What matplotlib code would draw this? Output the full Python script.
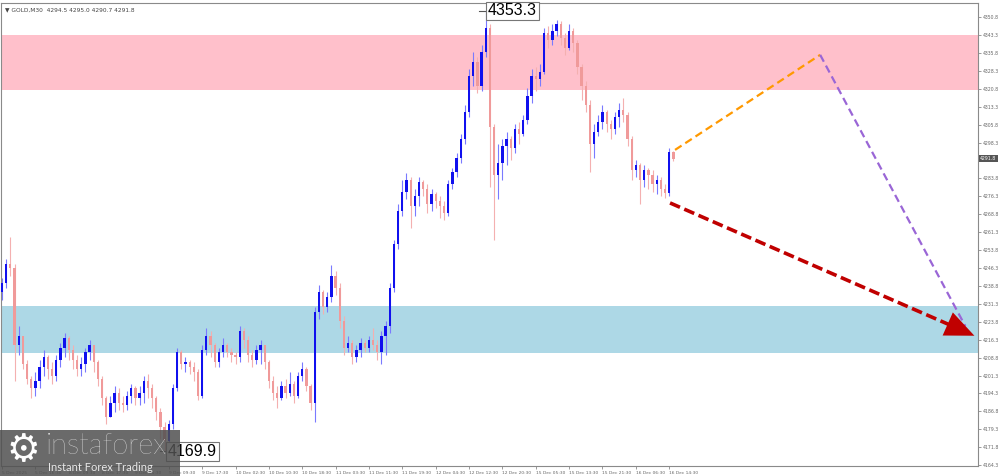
import numpy as np
import matplotlib
matplotlib.use("Agg")
import matplotlib.pyplot as plt
from matplotlib.patches import Rectangle

# hourly-ish candles (GOLD M30 view)
close = [4240, 4248, 4246, 4214, 4218, 4206, 4200, 4196, 4199, 4205,
         4209, 4204, 4201, 4208, 4213, 4217, 4212, 4208, 4204, 4206,
         4211, 4214, 4207, 4200, 4192, 4184, 4190, 4194, 4190, 4189,
         4193, 4196, 4192, 4194, 4199, 4196, 4192, 4186, 4180, 4174,
         4181, 4196, 4211, 4206, 4207, 4205, 4203, 4193, 4212, 4218,
         4214, 4207, 4211, 4214, 4211, 4210, 4209, 4220, 4216, 4210,
         4208, 4212, 4214, 4207, 4199, 4194, 4192, 4197, 4194, 4198,
         4193, 4201, 4204, 4197, 4190, 4228, 4236, 4230, 4234, 4243,
         4238, 4224, 4213, 4215, 4209, 4212, 4215, 4213, 4216, 4214,
         4211, 4218, 4222, 4238, 4256, 4270, 4278, 4283, 4272, 4276,
         4282, 4279, 4273, 4277, 4274, 4272, 4269, 4281, 4286, 4292,
         4300, 4311, 4326, 4332, 4322, 4336, 4346, 4305, 4285, 4290,
         4297, 4300, 4296, 4304, 4302, 4308, 4318, 4326, 4325, 4328,
         4344, 4341, 4345, 4348, 4342, 4338, 4345, 4340, 4330, 4322,
         4314, 4298, 4303, 4307, 4311, 4306, 4304, 4309, 4312, 4310,
         4300, 4287, 4289, 4283, 4287, 4285, 4281, 4283, 4279, 4277.5,
         4294.5, 4291.8]
high = [4242, 4250, 4259, 4248, 4222, 4218, 4208, 4201, 4203, 4208,
        4212, 4210, 4207, 4210, 4215, 4219, 4218, 4214, 4210, 4209,
        4213, 4216, 4214, 4208, 4201, 4193, 4193, 4197, 4196, 4193,
        4195, 4198, 4197, 4197, 4201, 4202, 4198, 4193, 4188, 4182,
        4183, 4198, 4213, 4212, 4209, 4208, 4207, 4204, 4214, 4221,
        4220, 4215, 4213, 4217, 4215, 4213, 4211, 4222, 4221, 4218,
        4212, 4214, 4216, 4214, 4208, 4201, 4197, 4199, 4200, 4203,
        4199, 4203, 4207, 4205, 4198, 4230, 4239, 4237, 4236, 4247.5,
        4245, 4240, 4226, 4218, 4216, 4214, 4217, 4216, 4218, 4221,
        4216, 4220, 4224, 4240, 4258, 4273, 4283, 4285.8, 4284, 4279,
        4284, 4283, 4281, 4279, 4278, 4276, 4274, 4283, 4288, 4294,
        4302, 4314, 4329, 4336, 4334, 4339, 4353.3, 4348, 4306, 4298,
        4300, 4303, 4301, 4306, 4307, 4310, 4321, 4329, 4330, 4331,
        4346, 4347, 4348, 4349.5, 4349, 4344, 4348, 4346, 4341, 4331,
        4324, 4316, 4306, 4310, 4314, 4312, 4308, 4311, 4315, 4317,
        4311, 4301, 4291, 4290, 4289, 4288, 4287, 4285, 4284, 4281,
        4296, 4295.0]
low = [4233, 4238, 4243, 4199, 4210, 4204, 4198, 4192, 4193, 4196,
       4201, 4200, 4198, 4199, 4205, 4209, 4208, 4204, 4201, 4201,
       4203, 4208, 4203, 4197, 4189, 4181, 4184, 4186, 4187, 4186,
       4187, 4190, 4189, 4189, 4190, 4192, 4188, 4183, 4175, 4169.9,
       4172, 4179, 4195, 4204, 4203, 4202, 4199, 4191, 4192, 4210,
       4209, 4205, 4205, 4209, 4209, 4207, 4206, 4207, 4213, 4207,
       4205, 4206, 4206, 4204, 4196, 4191, 4188, 4191, 4192, 4193,
       4190, 4192, 4199, 4195, 4187, 4182, 4225, 4227, 4228, 4232,
       4235, 4221, 4210, 4211, 4206, 4207, 4209, 4211, 4211, 4212,
       4208, 4206, 4210, 4219, 4236, 4254, 4268, 4275, 4263, 4268,
       4272, 4276, 4269, 4270, 4271, 4267, 4266, 4268, 4279, 4284,
       4290, 4298, 4309, 4322, 4319, 4320, 4334, 4280, 4258, 4275,
       4283, 4289, 4291, 4294, 4298, 4301, 4306, 4315, 4320, 4322,
       4327, 4338, 4339, 4343, 4339, 4335, 4337, 4336, 4327, 4316,
       4311, 4286, 4292, 4301, 4304, 4303, 4300, 4302, 4305, 4307,
       4297, 4283, 4284, 4273, 4280, 4279, 4278, 4277, 4276, 4275.5,
       4276, 4290.7]
first_open = 4236

resistance_zone = (4320.5, 4343.3)
support_zone = (4210.8, 4230.4)

y_ticks = [4350.8, 4343.3, 4335.8, 4328.3, 4320.8, 4313.3, 4305.8, 4298.3,
           4283.8, 4276.3, 4268.8, 4261.3, 4253.8, 4246.3, 4238.8, 4231.3,
           4223.8, 4216.3, 4208.8, 4201.3, 4194.3, 4186.8, 4179.3, 4171.8,
           4164.3]
x_labels = ["5 Dec 2025", "5 Dec 16:30", "8 Dec 09:30", "8 Dec 17:30",
            "9 Dec 01:30", "9 Dec 09:30", "9 Dec 17:30", "10 Dec 02:30",
            "10 Dec 10:30", "10 Dec 18:30", "11 Dec 03:30", "11 Dec 11:30",
            "11 Dec 19:30", "12 Dec 04:30", "12 Dec 12:30", "12 Dec 20:30",
            "15 Dec 05:30", "15 Dec 13:30", "15 Dec 21:30", "16 Dec 06:30",
            "16 Dec 14:30"]

# forecast paths (candle index, price)
orange_path = ([161.4, 196.2], [4295.4, 4335.0])
purple_path = ([196.2, 231.0], [4335.0, 4222.0])
red_path = ([160.2, 229.5], [4273.3, 4220.8])
red_tip = (233.8, 4217.5)

close = np.array(close)
high = np.array(high)
low = np.array(low)
opn = np.concatenate([[first_open], close[:-1]])
idx = np.arange(len(close))

fig = plt.figure(figsize=(10, 4.76), dpi=100)
ax = fig.add_axes([0.001, 10 / 476, 0.977, 463 / 476])
ax.set_xlim(-0.24, 234.05)
ax.set_ylim(4163.7, 4356.6)

ax.axhspan(*resistance_zone, color="#ffc0cb", lw=0, zorder=0)
ax.axhspan(*support_zone, color="#add8e6", lw=0, zorder=0)

up = close >= opn
ax.vlines(idx[up], low[up], high[up], color="#7a7aff", lw=0.8, zorder=2)
ax.vlines(idx[~up], low[~up], high[~up], color="#f4b0b0", lw=0.8, zorder=2)
body_lo = np.minimum(opn, close)
body_h = np.maximum(np.abs(close - opn), 0.4)
ax.bar(idx[up], body_h[up], bottom=body_lo[up], width=0.55, color="#1010ee", lw=0, zorder=3)
ax.bar(idx[~up], body_h[~up], bottom=body_lo[~up], width=0.55, color="#f09a9a", lw=0, zorder=3)

# forecast arrows
ax.plot(*orange_path, color="#ff9900", lw=1.6, ls=(0, (3.5, 2)), zorder=4)
ax.plot(*purple_path, color="#9a66d6", lw=1.6, ls=(0, (3.5, 2)), zorder=4)
ax.plot(*red_path, color="#c00000", lw=2.6, ls=(0, (3, 1.3)), zorder=5)
ax.annotate("", xy=red_tip, xytext=(red_path[0][1], red_path[1][1]),
            arrowprops=dict(arrowstyle="-|>,head_length=1.5,head_width=0.65",
                            color="#c00000", lw=0, mutation_scale=14), zorder=6)

# high / low labels
ax.plot([114.5, 116.3], [4353.3, 4353.3], color="#555555", lw=0.8, zorder=6)
ax.text(116.5, 4353.3, "4353.3", fontsize=11.5, family="Liberation Sans", va="center",
        ha="left", zorder=7,
        bbox=dict(boxstyle="square,pad=0.12", fc="white", ec="#777777", lw=0.8))
ax.plot([38.0, 39.6], [4169.9, 4169.9], color="#555555", lw=0.8, zorder=6)
ax.text(39.8, 4169.9, "4169.9", fontsize=11.5, family="Liberation Sans", va="center",
        ha="left", zorder=7,
        bbox=dict(boxstyle="square,pad=0.12", fc="white", ec="#777777", lw=0.8))

# axes styling
for side in ["left", "top", "right", "bottom"]:
    ax.spines[side].set_color("#8a8a8a")
    ax.spines[side].set_linewidth(0.8)
ax.yaxis.tick_right()
ax.set_yticks(y_ticks)
ax.set_yticklabels([f"{v:.1f}" for v in y_ticks])
ax.tick_params(axis="y", length=2, width=0.6, color="#8a8a8a", labelsize=3.3,
               labelcolor="#666666", pad=1.5)
ax.set_xticks([8 * j for j in range(len(x_labels))])
ax.set_xticklabels(x_labels, ha="left")
ax.tick_params(axis="x", length=2, width=0.6, color="#8a8a8a", labelsize=3.2,
               labelcolor="#666666", pad=1.5)

# current price tag
ax.text(1.002, (4291.8 - 4163.7) / (4356.6 - 4163.7), "4291.8", transform=ax.transAxes,
        fontsize=3.3, color="white", va="center", ha="left", zorder=8, clip_on=False,
        bbox=dict(boxstyle="square,pad=0.3", fc="#555555", ec="none"))

fig.text(0.005, 0.985, "\u25bc GOLD,M30  4294.5 4295.0 4290.7 4291.8", fontsize=4.2,
         color="#444444", va="top", ha="left")

# logo block
fig.patches.append(Rectangle((0, 0), 0.18, 46 / 476, transform=fig.transFigure,
                             fc="#505050", alpha=0.85, zorder=10))
fig.text(0.023, 0.052, "\u2699", fontsize=27, color="white", va="center", ha="center",
         family="DejaVu Sans", zorder=11)
fig.text(0.046, 0.063, "instaforex", fontsize=21, color="white", va="center", ha="left",
         family="Lato", fontweight="light", zorder=11)
fig.text(0.048, 0.018, "Instant Forex Trading", fontsize=8, color="#e8e8e8", va="center",
         ha="left", family="Lato", zorder=11)

fig.savefig("out.png", dpi=100)
